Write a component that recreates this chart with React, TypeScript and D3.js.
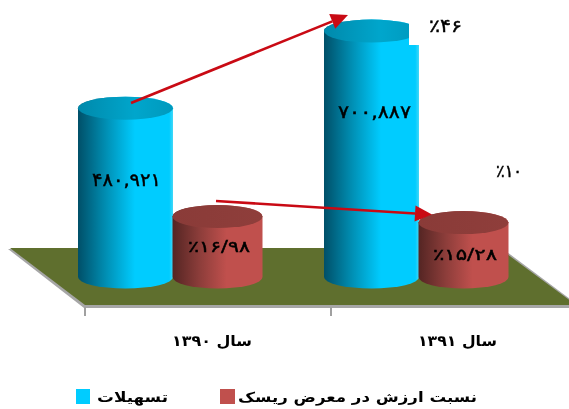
import React from "react";
import * as d3 from "d3";

const years = ["سال ۱۳۹۰", "سال ۱۳۹۱"];
const loans = [480921, 700887];
const shares = [16.98, 15.28];
const loanLabels = ["۴۸۰,۹۲۱", "۷۰۰,۸۸۷"];
const shareLabels = ["٪۱۶/۹۸", "٪۱۵/۲۸"];
const growthLabels = ["٪۴۶", "٪۱۰"];
const seriesNames = ["تسهیلات", "نسبت ارزش در معرض ریسک"];

const W = 569, H = 409;
const baseY = 277, ry = 11.5;
const FONT = "'DejaVu Sans', 'Noto Sans', sans-serif";

const yLoans = d3.scaleLinear().domain([0, 700887]).range([baseY, 31]);
const yShares = d3.scaleLinear().domain([0, 16.98]).range([baseY, 216.5]);
const xGroup = d3.scaleBand<number>().domain([0, 1]).range([85, 577]);

const cylPath = (cx: number, rx: number, top: number) =>
  `M${cx - rx},${top} L${cx - rx},${baseY} A${rx},${ry} 0 0 0 ${cx + rx},${baseY} L${cx + rx},${top} A${rx},${ry} 0 0 0 ${cx - rx},${top} Z`;

function Cyl({ cx, rx, top, side, cap }: { cx: number; rx: number; top: number; side: string; cap: string }) {
  return (
    <g>
      <path d={cylPath(cx, rx, top)} fill={`url(#${side})`} />
      <ellipse cx={cx} cy={top} rx={rx} ry={ry} fill={`url(#${cap})`} />
    </g>
  );
}

const label = (x: number, y: number, t: string, size: number, width: number, weight = 400) => (
  <text
    x={x}
    y={y}
    textAnchor="middle"
    fontFamily={FONT}
    fontSize={size}
    fontWeight={weight}
    fill="#000"
    stroke={weight === 400 ? "#000" : "none"}
    strokeWidth={0.45}
    textLength={width}
    lengthAdjust="spacingAndGlyphs"
    style={{ unicodeBidi: "plaintext" }}
  >
    {t}
  </text>
);

export default function App() {
  const arrows = [
    { x1: 131, y1: 103, x2: 348, y2: 15 },
    { x1: 216, y1: 201, x2: 432, y2: 214.5 },
  ];
  return (
    <svg width={W} height={H} style={{ position: "absolute", left: 0, top: 0, background: "#fff", filter: "blur(0.35px)" }}>
      <defs>
        <linearGradient id="blueSide">
          <stop offset="0" stopColor="#004f68" />
          <stop offset="0.3" stopColor="#0090b5" />
          <stop offset="0.6" stopColor="#00ccff" />
          <stop offset="0.96" stopColor="#00ccff" />
          <stop offset="1" stopColor="#40d8f8" />
        </linearGradient>
        <linearGradient id="blueCap">
          <stop offset="0" stopColor="#0089ab" />
          <stop offset="0.6" stopColor="#00a6cc" />
          <stop offset="1" stopColor="#0099bd" />
        </linearGradient>
        <linearGradient id="redSide">
          <stop offset="0" stopColor="#542523" />
          <stop offset="0.3" stopColor="#8c3d3a" />
          <stop offset="0.6" stopColor="#c0504d" />
          <stop offset="1" stopColor="#c0504d" />
        </linearGradient>
        <linearGradient id="redCap">
          <stop offset="0" stopColor="#8a3b38" />
          <stop offset="1" stopColor="#8f3e3b" />
        </linearGradient>
      </defs>

      <polygon points="8,249 84,308 582,308 503,249" fill="#a6a6a6" />
      <polygon points="10,248 85,305 576,305 499,248" fill="#5f6f2e" />
      {[0, 1].map((i) => (
        <line key={i} x1={xGroup(i)!} x2={xGroup(i)!} y1={307} y2={316} stroke="#a0a0a0" strokeWidth={2} />
      ))}

      {loans.map((v, i) => (
        <React.Fragment key={i}>
          <Cyl cx={xGroup(i)! + 40.5} rx={47.5} top={yLoans(v)} side="blueSide" cap="blueCap" />
          <Cyl cx={xGroup(i)! + 132.5} rx={45} top={yShares(shares[i])} side="redSide" cap="redCap" />
        </React.Fragment>
      ))}

      <rect x={409} y={0} width={80} height={45} fill="#fff" />

      {arrows.map((a, i) => {
        const ang = Math.atan2(a.y2 - a.y1, a.x2 - a.x1);
        const hl = 17, hw = 8;
        const bx = a.x2 - hl * Math.cos(ang), by = a.y2 - hl * Math.sin(ang);
        const nx = -Math.sin(ang), ny = Math.cos(ang);
        return (
          <g key={i}>
            <line x1={a.x1} y1={a.y1} x2={bx} y2={by} stroke="#c90a14" strokeWidth={2.6} />
            <polygon points={`${a.x2},${a.y2} ${bx + nx * hw},${by + ny * hw} ${bx - nx * hw},${by - ny * hw}`} fill="#c90a14" />
          </g>
        );
      })}

      {label(126.5, 186, loanLabels[0], 18, 69)}
      {label(374.5, 118, loanLabels[1], 18, 73)}
      {label(219, 252, shareLabels[0], 16, 62)}
      {label(465, 260, shareLabels[1], 16, 64)}
      {label(445.5, 32, growthLabels[0], 18, 33)}
      {label(509, 177, growthLabels[1], 17, 26)}

      {label(212, 346, years[0], 15, 80, 700)}
      {label(457.5, 346, years[1], 15, 79, 700)}

      <rect x={76} y={389} width={14} height={15} fill="#00ccff" />
      {label(132.5, 402, seriesNames[0], 14, 71, 700)}
      <rect x={220} y={389} width={15} height={15} fill="#c0504d" />
      {label(357.5, 402, seriesNames[1], 14, 239, 700)}
    </svg>
  );
}
